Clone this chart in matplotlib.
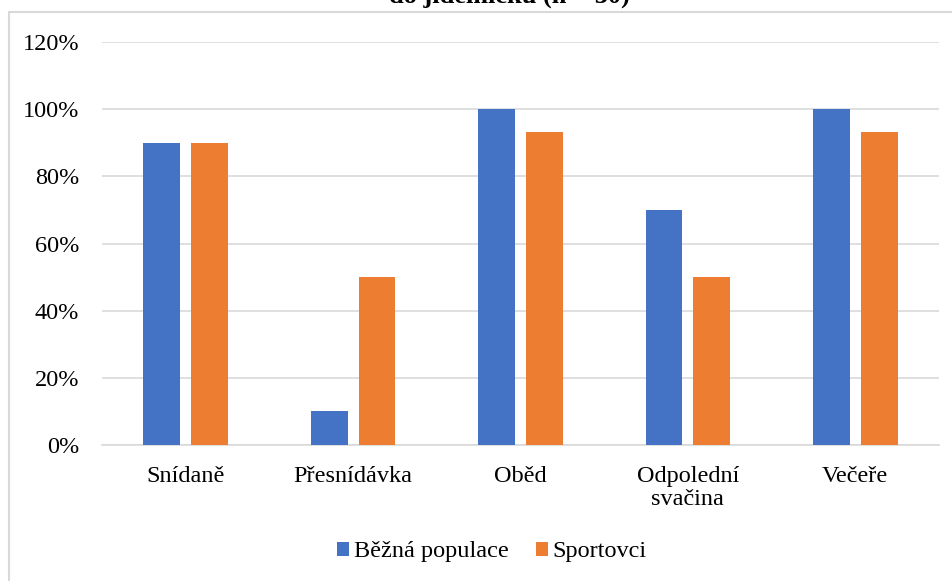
import matplotlib
matplotlib.use("Agg")
import matplotlib.pyplot as plt
import numpy as np
from matplotlib.patches import Rectangle

categories = ["Snídaně", "Přesnídávka", "Oběd", "Odpolední\nsvačina", "Večeře"]
bezna = [90, 10, 100, 70, 100]
sportovci = [90, 50, 93.3, 50, 93.3]
series_names = ["Běžná populace", "Sportovci"]
yticks = [0, 20, 40, 60, 80, 100, 120]
title = "do jídelníčku (n = 30)"

plt.rcParams['font.family'] = ['Liberation Serif', 'DejaVu Serif']

W, H = 952, 581
fig = plt.figure(figsize=(W/100, H/100), dpi=100)

# outer chart frame (cropped on right/bottom)
fig.patches.append(Rectangle((8.5/W, -0.1), 1.2, (H-12.5)/H + 0.1, transform=fig.transFigure,
                             fill=False, edgecolor='#D9D9D9', linewidth=1.5, zorder=0))
fig.text(509/W, 1 - 3/H, title, ha='center', va='baseline', fontsize=19, fontweight='bold')

ax = fig.add_axes([102/W, 1 - 445/H, (939-102)/W, (445-42)/H])
x = np.arange(len(categories))
w = 0.22
off = 0.143
ax.bar(x - off, bezna, w, color='#4472C4', label=series_names[0], zorder=3)
ax.bar(x + off, sportovci, w, color='#ED7D31', label=series_names[1], zorder=3)

ax.set_xlim(-0.5, len(categories) - 0.5)
ax.set_ylim(0, 120)
ax.set_yticks(yticks)
ax.set_yticklabels([f"{v}%" for v in yticks], fontsize=17.5)
ax.set_xticks(x)
ax.set_xticklabels(categories, fontsize=17.5, linespacing=1.15, va='top')
ax.tick_params(axis='both', length=0)
ax.tick_params(axis='y', pad=16.5)
ax.tick_params(axis='x', pad=15)
ax.grid(axis='y', color='#D9D9D9', linewidth=1.2, zorder=0)
for s in ['top', 'right', 'left']:
    ax.spines[s].set_visible(False)
ax.spines['bottom'].set_color('#D9D9D9')
ax.spines['bottom'].set_linewidth(1.2)

leg = fig.legend(loc='center', bbox_to_anchor=(492/W, 1 - 552/H), ncol=2, frameon=False,
                 fontsize=17.5, handlelength=0.5, handleheight=0.5, handletextpad=0.2,
                 columnspacing=1.1)
fig.savefig("out.png", dpi=100)
